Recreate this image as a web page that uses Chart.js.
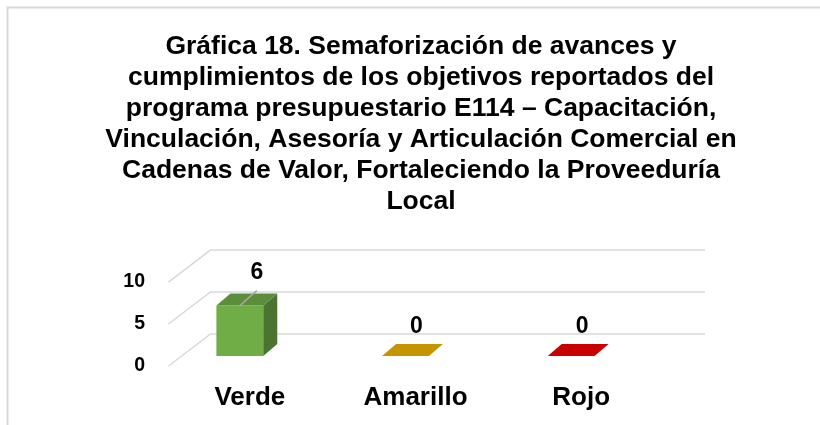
<!DOCTYPE html>
<html>
<head>
<meta charset="utf-8">
<script src="https://cdn.jsdelivr.net/npm/chart.js@4.4.0/dist/chart.umd.min.js"></script>
<style>
  html, body { margin: 0; padding: 0; background: #fff; }
  canvas { display: block; }
</style>
</head>
<body>
<canvas id="chartSemaforo" width="820" height="425"></canvas>
<script>
// --- datos de la gráfica ---
const titleLines = [
    'Gráfica 18. Semaforización de avances y',
    'cumplimientos de los objetivos reportados del',
    'programa presupuestario E114 – Capacitación,',
    'Vinculación, Asesoría y Articulación Comercial en',
    'Cadenas de Valor, Fortaleciendo la Proveeduría',
    'Local'
];
const categories = ['Verde', 'Amarillo', 'Rojo'];
const values = [6, 0, 0];
const yTicks = [0, 5, 10];

// colores por cara de cada prisma
const frontColors = ['#70ad47', '#bf9000', '#c00000'];
const topColors = ['#5b8d3a', '#c49500', '#c80000'];
const sideColors = ['#4b7431', '#9a7400', '#990000'];

const FONT = "'Liberation Sans', Arial, sans-serif";
const BAR_DX = 14, BAR_DY = -12;   // profundidad del prisma
const WALL_BACK = -22;             // desplazamiento de la pared del fondo

// marco gris del área del gráfico
const frame = {
    id: 'frame',
    beforeDraw(chart) {
        const ctx = chart.ctx;
        ctx.save();
        ctx.strokeStyle = '#d9d9d9';
        ctx.lineWidth = 2;
        ctx.beginPath();
        ctx.moveTo(7.5, chart.height);
        ctx.lineTo(7.5, 7.5);
        ctx.lineTo(chart.width, 7.5);
        ctx.stroke();
        ctx.restore();
    }
};

// líneas de división en la pared y el costado izquierdo
const wall = {
    id: 'wall',
    beforeDatasetsDraw(chart) {
        const { ctx, chartArea: a, scales: { y } } = chart;
        ctx.save();
        ctx.strokeStyle = '#d9d9d9';
        ctx.lineWidth = 1.5;
        yTicks.forEach(v => {
            const yf = y.getPixelForValue(v);
            const yb = yf + WALL_BACK;
            ctx.beginPath();
            ctx.moveTo(a.left + 11.5, yf + 10);
            ctx.lineTo(a.left + 53.5, yb);
            ctx.lineTo(a.right + 51, yb);
            ctx.stroke();
        });
        ctx.restore();
    }
};

function poly(ctx, pts, color) {
    ctx.fillStyle = color;
    ctx.beginPath();
    pts.forEach((p, i) => i ? ctx.lineTo(p[0], p[1]) : ctx.moveTo(p[0], p[1]));
    ctx.closePath();
    ctx.fill();
}

// cara superior y lateral de cada barra
const prism = {
    id: 'prism',
    afterDatasetsDraw(chart) {
        const ctx = chart.ctx;
        ctx.save();
        chart.getDatasetMeta(0).data.forEach((bar, i) => {
            const l = bar.x - bar.width / 2, r = bar.x + bar.width / 2;
            const t = bar.y, b = bar.base;
            if (b - t > 0.5) {
                poly(ctx, [[r, t], [r + BAR_DX, t + BAR_DY], [r + BAR_DX, b + BAR_DY], [r, b]], sideColors[i]);
            }
            poly(ctx, [[l, t], [r, t], [r + BAR_DX, t + BAR_DY], [l + BAR_DX, t + BAR_DY]], topColors[i]);
        });
        ctx.restore();
    }
};

// etiquetas de valor (con línea guía cuando la barra tiene altura)
const valueLabels = {
    id: 'valueLabels',
    afterDatasetsDraw(chart) {
        const ctx = chart.ctx;
        ctx.save();
        ctx.font = `bold 23px ${FONT}`;
        ctx.fillStyle = '#000';
        ctx.textAlign = 'center';
        ctx.textBaseline = 'middle';
        chart.getDatasetMeta(0).data.forEach((bar, i) => {
            const lifted = values[i] > 0;
            const lx = bar.x + (lifted ? 17 : 11);
            const ly = bar.y - (lifted ? 33 : 29);
            if (lifted) {
                ctx.strokeStyle = '#a6a6a6';
                ctx.lineWidth = 1.5;
                ctx.beginPath();
                ctx.moveTo(bar.x, bar.y);
                ctx.lineTo(lx, ly + 18);
                ctx.stroke();
            }
            ctx.fillText(String(values[i]), lx, ly);
        });
        ctx.restore();
    }
};

new Chart(document.getElementById('chartSemaforo'), {
    type: 'bar',
    data: {
        labels: categories,
        datasets: [{
            data: values,
            backgroundColor: frontColors,
            borderWidth: 0,
            barPercentage: 0.283,
            categoryPercentage: 1
        }]
    },
    options: {
        responsive: false,
        animation: false,
        layout: { padding: { left: 22, right: 0, top: 0, bottom: 0 } },
        plugins: {
            legend: { display: false },
            tooltip: { enabled: false },
            title: {
                display: true,
                text: titleLines,
                color: '#000',
                font: { family: FONT, size: 26.5, weight: 'bold', lineHeight: 1.17 },
                padding: { top: 31.5, bottom: 54.5 }
            }
        },
        scales: {
            x: {
                grid: { display: false, drawTicks: false },
                border: { display: false },
                ticks: {
                    color: '#000',
                    font: { family: FONT, size: 26, weight: 'bold' },
                    padding: 26,
                    labelOffset: 10
                },
                afterFit: s => { s.height = 69; }
            },
            y: {
                min: 0,
                max: 10,
                grid: { display: false, drawTicks: false },
                border: { display: false },
                afterBuildTicks: s => { s.ticks = yTicks.map(v => ({ value: v })); },
                ticks: {
                    color: '#000',
                    font: { family: FONT, size: 19.5, weight: 'bold' },
                    padding: 12,
                    labelOffset: 10
                },
                afterFit: s => { s.width = 135; }
            },
            // margen derecho vacío junto a la pared
            yRight: {
                position: 'right',
                grid: { display: false, drawTicks: false },
                border: { display: false },
                ticks: { display: false },
                afterFit: s => { s.width = 166; }
            }
        }
    },
    plugins: [frame, wall, prism, valueLabels]
});
</script>
</body>
</html>
